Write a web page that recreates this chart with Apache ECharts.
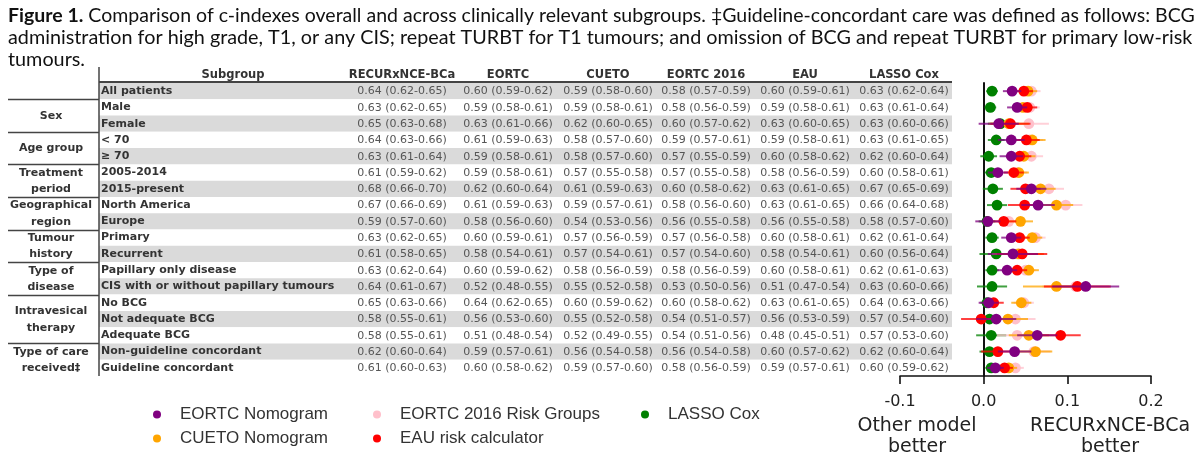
<!DOCTYPE html>
<html><head><meta charset="utf-8">
<script src="https://cdn.jsdelivr.net/npm/echarts@6/dist/echarts.min.js"></script>
<style>html,body{margin:0;padding:0;background:#fff}#c{width:1200px;height:468px}</style>
</head><body><div id="c"></div><script>
// ---------- DATA ----------
const titleBold = 'Figure 1.';
const titleLine1 = ' Comparison of c-indexes overall and across clinically relevant subgroups. \u2021Guideline-concordant care was defined as follows: BCG';
const titleLine2 = 'administration for high grade, T1, or any CIS; repeat TURBT for T1 tumours; and omission of BCG and repeat TURBT for primary low-risk';
const titleLine3 = 'tumours.';

const subgroups = ['All patients','Male','Female','< 70','\u2265 70','2005-2014','2015-present','North America','Europe','Primary','Recurrent','Papillary only disease','CIS with or without papillary tumours','No BCG','Not adequate BCG','Adequate BCG','Non-guideline concordant','Guideline concordant'];
const groupNames = ['Sex','Age group','Treatment\nperiod','Geographical\nregion','Tumour\nhistory','Type of\ndisease','Intravesical\ntherapy','Type of care\nreceived\u2021'];
const groupFirstRow = [1,3,5,7,9,11,13,16];
const groupLastRow  = [2,4,6,8,10,12,15,17];

const columnHeaders = ['RECURxNCE-BCa','EORTC','CUETO','EORTC 2016','EAU','LASSO Cox'];
const recurCI = ['0.64 (0.62-0.65)','0.63 (0.62-0.65)','0.65 (0.63-0.68)','0.64 (0.63-0.66)','0.63 (0.61-0.64)','0.61 (0.59-0.62)','0.68 (0.66-0.70)','0.67 (0.66-0.69)','0.59 (0.57-0.60)','0.63 (0.62-0.65)','0.61 (0.58-0.65)','0.63 (0.62-0.64)','0.64 (0.61-0.67)','0.65 (0.63-0.66)','0.58 (0.55-0.61)','0.58 (0.55-0.61)','0.62 (0.60-0.64)','0.61 (0.60-0.63)'];
const eortcCI = ['0.60 (0.59-0.62)','0.59 (0.58-0.61)','0.63 (0.61-0.66)','0.61 (0.59-0.63)','0.59 (0.58-0.61)','0.59 (0.58-0.61)','0.62 (0.60-0.64)','0.61 (0.59-0.63)','0.58 (0.56-0.60)','0.60 (0.59-0.61)','0.58 (0.54-0.61)','0.60 (0.59-0.62)','0.52 (0.48-0.55)','0.64 (0.62-0.65)','0.56 (0.53-0.60)','0.51 (0.48-0.54)','0.59 (0.57-0.61)','0.60 (0.58-0.62)'];
const cuetoCI = ['0.59 (0.58-0.60)','0.59 (0.58-0.61)','0.62 (0.60-0.65)','0.58 (0.57-0.60)','0.58 (0.57-0.60)','0.57 (0.55-0.58)','0.61 (0.59-0.63)','0.59 (0.57-0.61)','0.54 (0.53-0.56)','0.57 (0.56-0.59)','0.57 (0.54-0.61)','0.58 (0.56-0.59)','0.55 (0.52-0.58)','0.60 (0.59-0.62)','0.55 (0.52-0.58)','0.52 (0.49-0.55)','0.56 (0.54-0.58)','0.59 (0.57-0.60)'];
const eortc2016CI = ['0.58 (0.57-0.59)','0.58 (0.56-0.59)','0.60 (0.57-0.62)','0.59 (0.57-0.61)','0.57 (0.55-0.59)','0.57 (0.55-0.58)','0.60 (0.58-0.62)','0.58 (0.56-0.60)','0.56 (0.55-0.58)','0.57 (0.56-0.58)','0.57 (0.54-0.60)','0.58 (0.56-0.59)','0.53 (0.50-0.56)','0.60 (0.58-0.62)','0.54 (0.51-0.57)','0.54 (0.51-0.56)','0.56 (0.54-0.58)','0.58 (0.56-0.59)'];
const eauCI = ['0.60 (0.59-0.61)','0.59 (0.58-0.61)','0.63 (0.60-0.65)','0.59 (0.58-0.61)','0.60 (0.58-0.62)','0.58 (0.56-0.59)','0.63 (0.61-0.65)','0.63 (0.61-0.65)','0.56 (0.55-0.58)','0.60 (0.58-0.61)','0.58 (0.54-0.61)','0.60 (0.58-0.61)','0.51 (0.47-0.54)','0.63 (0.61-0.65)','0.56 (0.53-0.59)','0.48 (0.45-0.51)','0.60 (0.57-0.62)','0.59 (0.57-0.61)'];
const lassoCI = ['0.63 (0.62-0.64)','0.63 (0.61-0.64)','0.63 (0.60-0.66)','0.63 (0.61-0.65)','0.62 (0.60-0.64)','0.60 (0.58-0.61)','0.67 (0.65-0.69)','0.66 (0.64-0.68)','0.58 (0.57-0.60)','0.62 (0.61-0.64)','0.60 (0.56-0.64)','0.62 (0.61-0.63)','0.63 (0.60-0.66)','0.64 (0.63-0.66)','0.57 (0.54-0.60)','0.57 (0.53-0.60)','0.62 (0.60-0.64)','0.60 (0.59-0.62)'];

// Forest plot: difference in c-index (RECURxNCE-BCa minus comparator)
const modelNames = ['EORTC Nomogram','CUETO Nomogram','EORTC 2016 Risk Groups','EAU risk calculator','LASSO Cox'];
const eortcDiff   = [0.034,0.040,0.018,0.033,0.033,0.017,0.057,0.065,0.005,0.033,0.035,0.028,0.122,0.006,0.015,0.064,0.037,0.014];
const eortcLo     = [0.023,0.028,-0.006,0.017,0.019,0.005,0.039,0.045,-0.010,0.021,0.005,0.016,0.082,-0.006,-0.009,0.040,0.017,0.004];
const eortcHi     = [0.045,0.052,0.042,0.049,0.047,0.029,0.075,0.085,0.020,0.045,0.065,0.040,0.162,0.018,0.039,0.088,0.057,0.024];
const cuetoDiff   = [0.053,0.047,0.030,0.058,0.048,0.042,0.068,0.087,0.044,0.058,0.042,0.054,0.087,0.045,0.029,0.054,0.062,0.030];
const cuetoLo     = [0.042,0.035,0.006,0.042,0.034,0.030,0.050,0.067,0.029,0.046,0.012,0.042,0.047,0.033,0.005,0.030,0.042,0.020];
const cuetoHi     = [0.064,0.059,0.054,0.074,0.062,0.054,0.086,0.107,0.059,0.070,0.072,0.066,0.127,0.057,0.053,0.078,0.082,0.040];
const e2016Diff   = [0.057,0.055,0.054,0.055,0.057,0.040,0.078,0.098,0.030,0.062,0.040,0.050,0.110,0.048,0.038,0.040,0.060,0.038];
const e2016Lo     = [0.046,0.043,0.030,0.039,0.043,0.028,0.060,0.078,0.015,0.050,0.010,0.038,0.070,0.036,0.014,0.016,0.040,0.028];
const e2016Hi     = [0.068,0.067,0.078,0.071,0.071,0.052,0.096,0.118,0.045,0.074,0.070,0.062,0.150,0.060,0.062,0.064,0.080,0.048];
const eauDiff     = [0.048,0.052,0.032,0.051,0.043,0.036,0.050,0.049,0.024,0.043,0.046,0.040,0.112,0.012,-0.003,0.092,0.017,0.025];
const eauLo       = [0.037,0.040,0.008,0.035,0.029,0.024,0.032,0.029,0.009,0.031,0.016,0.028,0.072,0.000,-0.027,0.068,-0.003,0.015];
const eauHi       = [0.059,0.064,0.056,0.067,0.057,0.048,0.068,0.069,0.039,0.055,0.076,0.052,0.152,0.024,0.021,0.116,0.037,0.035];
const lassoDiff   = [0.010,0.008,0.020,0.015,0.006,0.009,0.011,0.016,0.004,0.010,0.015,0.010,0.010,0.004,0.007,0.009,0.007,0.009];
const lassoLo     = [0.003,0.001,0.005,0.005,-0.004,0.001,-0.001,0.004,-0.006,0.002,-0.005,0.002,-0.008,-0.004,-0.008,-0.009,-0.005,0.002];
const lassoHi     = [0.017,0.015,0.035,0.025,0.016,0.017,0.023,0.028,0.014,0.018,0.035,0.018,0.028,0.012,0.022,0.027,0.019,0.016];

const xTickMin = -0.1, xTickMax = 0.2, xTickStep = 0.1;

// ---------- LAYOUT / STYLE ----------
const tableCols = [recurCI, eortcCI, cuetoCI, eortc2016CI, eauCI, lassoCI];
const colCenters = [402, 508, 608, 706, 805, 904];
const GRID_TOP = 83, GRID_H = 293;
const FONT_T = '"DejaVu Sans", sans-serif';

const chart = echarts.init(document.getElementById('c'), null, {renderer: 'canvas'});

const tableData = [];
for (let c = 0; c < tableCols.length; c++) for (let r = 0; r < subgroups.length; r++) tableData.push([c, r]);

function forestSeries(name, color, est, lo, hi) {
  return {
    type: 'custom', name, xAxisIndex: 1, yAxisIndex: 1,
    itemStyle: {color},
    encode: {x: [1, 2, 3], y: 0},
    data: est.map((e, i) => [i, e, lo[i], hi[i]]),
    renderItem: (params, api) => {
      const r = api.value(0);
      const a = api.coord([api.value(2), r]);
      const b = api.coord([api.value(3), r]);
      const m = api.coord([api.value(1), r]);
      return {type: 'group', children: [
        {type: 'line', shape: {x1: a[0], y1: a[1], x2: b[0], y2: b[1]}, style: {stroke: color, lineWidth: 2, opacity: 0.75}},
        {type: 'circle', shape: {cx: m[0], cy: m[1], r: 5.4}, style: {fill: color}}
      ]};
    }
  };
}

const legendText = {fontFamily: '"Liberation Sans", Arial, sans-serif', fontSize: 17, color: '#333', padding: [0, 0, 0, 14], lineHeight: 17};
function mkLegend(names, left) {
  return {data: names, orient: 'vertical', left, top: 406, itemWidth: 8, itemHeight: 8, itemGap: 7,
    icon: 'circle', padding: 0, textStyle: legendText, selectedMode: false};
}
const tNorm1 = {fontFamily: 'Lato', fontWeight: 'normal', fontSize: 19.5, color: '#111'};
const tNorm = {fontFamily: 'Lato', fontWeight: 'normal', fontSize: 19.8, color: '#111'};

const option = {
  animation: false,
  backgroundColor: '#fff',
  title: [
    {left: 3, top: 1, text: '{b|' + titleBold + '}{n|' + titleLine1 + '}',
      textStyle: {rich: {b: Object.assign({}, tNorm1, {fontWeight: 'bold'}), n: tNorm1}}},
    {left: 3, top: 23, text: titleLine2, textStyle: tNorm},
    {left: 3, top: 45, text: titleLine3, textStyle: tNorm}
  ],
  legend: [
    mkLegend([modelNames[0], modelNames[1]], 153),
    mkLegend([modelNames[2], modelNames[3]], 373),
    mkLegend([modelNames[4]], 641)
  ],
  grid: [
    {left: 99, width: 853, top: GRID_TOP, height: GRID_H, containLabel: false},
    {left: 900, width: 251, top: GRID_TOP, height: GRID_H, containLabel: false}
  ],
  xAxis: [
    {gridIndex: 0, type: 'value', min: 99, max: 952, show: false},
    {gridIndex: 1, type: 'value', min: xTickMin, max: xTickMax, interval: xTickStep, position: 'bottom',
      axisLine: {show: true, onZero: false, lineStyle: {color: '#111', width: 1.6}},
      axisTick: {show: true, inside: false, length: 8, lineStyle: {color: '#111', width: 1.6}},
      splitLine: {show: false},
      axisLabel: {fontFamily: FONT_T, fontSize: 16, color: '#222', margin: 18, formatter: v => v.toFixed(1)}}
  ],
  yAxis: [
    {gridIndex: 0, type: 'category', data: subgroups, inverse: true,
      axisLine: {show: false}, axisTick: {show: false}, splitLine: {show: false},
      splitArea: {show: true, areaStyle: {color: ['#dadada', '#ffffff']}},
      axisLabel: {inside: true, margin: 2, align: 'left', fontFamily: FONT_T, fontWeight: 'bold', fontSize: 11, color: '#333'}},
    {gridIndex: 1, type: 'category', data: subgroups, inverse: true,
      axisLine: {show: true, onZero: true, lineStyle: {color: '#111', width: 2}},
      axisTick: {show: false}, axisLabel: {show: false}, splitLine: {show: false}}
  ],
  series: [
    {type: 'custom', name: 'table', xAxisIndex: 0, yAxisIndex: 0, silent: true,
      encode: {x: 0, y: 1}, data: tableData,
      renderItem: (params, api) => {
        const c = api.value(0), r = params.dataIndex % subgroups.length;
        const p = api.coord([colCenters[c], r]);
        return {type: 'text', x: p[0], y: p[1] + 0.5,
          style: {text: tableCols[c][r], fill: '#555', font: '11px "DejaVu Sans"', align: 'center', verticalAlign: 'middle'}};
      }},
    forestSeries(modelNames[4], '#008000', lassoDiff, lassoLo, lassoHi),
    forestSeries(modelNames[2], '#ffc0cb', e2016Diff, e2016Lo, e2016Hi),
    forestSeries(modelNames[1], '#ffa500', cuetoDiff, cuetoLo, cuetoHi),
    forestSeries(modelNames[3], '#ff0000', eauDiff, eauLo, eauHi),
    forestSeries(modelNames[0], '#800080', eortcDiff, eortcLo, eortcHi)
  ]
};
chart.setOption(option);

// ---------- decorations placed through the axes ----------
const rowY = r => chart.convertToPixel({yAxisIndex: 0}, r);
const rowH = rowY(1) - rowY(0);
const g = [];
g.push({type: 'text', x: 233, y: 75, style: {text: 'Subgroup', font: 'bold 11.5px "DejaVu Sans"', fill: '#333', align: 'center', verticalAlign: 'middle'}});
columnHeaders.forEach((h, c) => g.push({type: 'text', x: colCenters[c], y: 75, style: {text: h, font: 'bold 11.5px "DejaVu Sans"', fill: '#333', align: 'center', verticalAlign: 'middle'}}));
g.push({type: 'line', shape: {x1: 99, y1: GRID_TOP - 1, x2: 952, y2: GRID_TOP - 1}, style: {stroke: '#444', lineWidth: 2}});
g.push({type: 'line', shape: {x1: 99, y1: 67, x2: 99, y2: GRID_TOP + GRID_H}, style: {stroke: '#444', lineWidth: 1.5}});
const sepRows = [0].concat(groupLastRow.slice(0, -1));
sepRows.forEach(r => {
  const y = Math.round((rowY(r) + rowY(r + 1)) / 2) + 0.5;
  g.push({type: 'line', shape: {x1: 8, y1: y, x2: 99, y2: y}, style: {stroke: '#444', lineWidth: 1.5}});
});
groupNames.forEach((name, i) => {
  const yc = (rowY(groupFirstRow[i]) + rowY(groupLastRow[i])) / 2;
  g.push({type: 'text', x: 51, y: yc + 0.5, style: {text: name, font: 'bold 11px "DejaVu Sans"', fill: '#333', align: 'center', verticalAlign: 'middle', lineHeight: rowH}});
});
g.push({type: 'text', x: 917, y: 437, style: {text: 'Other model\nbetter', font: '19px "DejaVu Sans"', fill: '#222', align: 'center', verticalAlign: 'middle', lineHeight: 21}});
g.push({type: 'text', x: 1110, y: 437, style: {text: 'RECURxNCE-BCa\nbetter', font: '19px "DejaVu Sans"', fill: '#222', align: 'center', verticalAlign: 'middle', lineHeight: 21}});
chart.setOption({graphic: {elements: g}});
</script></body></html>
